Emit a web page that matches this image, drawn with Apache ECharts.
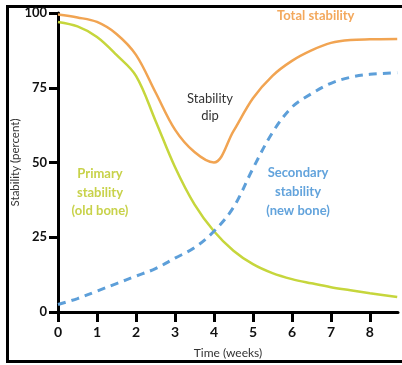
<!DOCTYPE html>
<html>
<head>
<meta charset="utf-8">
<title>Stability</title>
<style>
  html, body { margin: 0; padding: 0; background: #fff; }
  #chart { width: 402px; height: 365px; }
</style>
</head>
<body>
<div id="chart"></div>
<script src="https://cdn.jsdelivr.net/npm/echarts@6/dist/echarts.min.js"></script>
<script>
// weeks since surgery
var weeks = [0, 0.5, 1, 1.5, 2, 2.5, 3, 3.5, 4, 4.5, 5, 5.5, 6, 6.5, 7, 7.5, 8, 8.7];
// stability in percent
var totalStab = [99.5, 98.5, 97, 93, 86, 73.5, 61, 53.5, 50, 60.5, 71.5, 79, 84, 87.5, 90, 91, 91.2, 91.3];
var primaryStab = [97, 95.5, 92, 86, 79, 64, 48.5, 36, 27, 20.5, 16, 13, 11, 9.6, 8.3, 7.3, 6.3, 5];
var secondaryStab = [2.5, 4.5, 7, 9.5, 12, 14.5, 18, 21.5, 27, 35, 48, 60, 68.5, 73, 76.5, 78.5, 79.5, 80];
var xTicks = [0, 1, 2, 3, 4, 5, 6, 7, 8];
var yTicks = [0, 25, 50, 75, 100];

function pairs(vals) {
  return weeks.map(function (w, i) { return [w, vals[i]]; });
}

var font = 'Lato, "DejaVu Sans", sans-serif';
var chart = echarts.init(document.getElementById('chart'));

var option = {
  animation: false,
  backgroundColor: '#fff',
  grid: { left: 58, right: 4, top: 13, bottom: 53, outerBoundsMode: 'none', containLabel: false },
  xAxis: {
    type: 'value',
    min: 0,
    max: 8.72,
    interval: 1,
    name: 'Time (weeks)',
    nameLocation: 'middle',
    nameGap: 35,
    nameMoveOverlap: false,
    nameTextStyle: { color: '#333', fontSize: 12, fontFamily: font },
    axisLine: { lineStyle: { color: '#000', width: 3 } },
    axisTick: { show: true, length: 10, lineStyle: { color: '#000', width: 3 }, customValues: xTicks },
    axisLabel: { color: '#111', fontSize: 14, fontWeight: 'bold', fontFamily: font, margin: 13, customValues: xTicks },
    splitLine: { show: false }
  },
  yAxis: {
    type: 'value',
    min: 0,
    max: 100,
    interval: 25,
    name: 'Stability (percent)',
    nameLocation: 'middle',
    nameGap: 37,
    nameMoveOverlap: false,
    nameTextStyle: { color: '#333', fontSize: 11.5, fontFamily: font },
    axisLine: { show: true, lineStyle: { color: '#000', width: 3 } },
    axisTick: { show: true, length: 9, lineStyle: { color: '#000', width: 3 }, customValues: yTicks },
    axisLabel: { color: '#111', fontSize: 13, fontWeight: 'bold', fontFamily: font, margin: 11, customValues: yTicks },
    splitLine: { show: false }
  },
  series: [
    {
      name: 'Total stability',
      type: 'line',
      smooth: 0.35,
      symbol: 'none',
      data: pairs(totalStab),
      lineStyle: { color: '#f1a452', width: 2.5 },
      z: 3
    },
    {
      name: 'Primary stability',
      type: 'line',
      smooth: 0.35,
      symbol: 'none',
      data: pairs(primaryStab),
      lineStyle: { color: '#c6d63c', width: 2.5 },
      z: 2
    },
    {
      name: 'Secondary stability',
      type: 'line',
      smooth: 0.35,
      symbol: 'none',
      data: pairs(secondaryStab),
      lineStyle: { color: '#5d9fd9', width: 3, type: [8, 6] },
      z: 4
    }
  ],
  graphic: [
    // frame round the figure (top, left, bottom)
    { type: 'rect', shape: { x: 6, y: 5, width: 396, height: 3 }, style: { fill: '#000' }, silent: true },
    { type: 'rect', shape: { x: 6, y: 5, width: 3, height: 358 }, style: { fill: '#000' }, silent: true },
    { type: 'rect', shape: { x: 6, y: 360, width: 396, height: 3 }, style: { fill: '#000' }, silent: true },
    {
      type: 'text', left: 277, top: 9,
      style: { text: 'Total stability', fill: '#f3a85c', font: 'bold 13px ' + font }
    },
    {
      type: 'text', x: 210, y: 90,
      style: { text: 'Stability\ndip', fill: '#333', font: '13px ' + font, align: 'center', lineHeight: 17 }
    },
    {
      type: 'text', x: 100, y: 165,
      style: { text: 'Primary\nstability\n(old bone)', fill: '#c8d24a', font: 'bold 13px ' + font, align: 'center', lineHeight: 18.5 }
    },
    {
      type: 'text', x: 298, y: 163,
      style: { text: 'Secondary\nstability\n(new bone)', fill: '#62a3dc', font: 'bold 13px ' + font, align: 'center', lineHeight: 19 }
    }
  ]
};

chart.setOption(option);
</script>
</body>
</html>
